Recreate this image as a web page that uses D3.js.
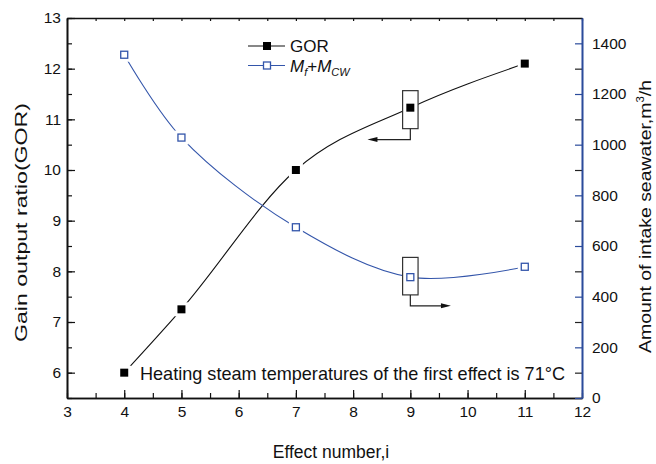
<!DOCTYPE html>
<html><head><meta charset="utf-8">
<script src="https://cdn.jsdelivr.net/npm/d3@7"></script>
<style>
html,body{margin:0;padding:0;background:#fff;}
svg{display:block;font-family:"Liberation Sans",Arial,sans-serif;}
</style></head>
<body>
<svg id="c" width="656" height="464"></svg>
<script>
// ---- data ----
const effects = [4, 5, 7, 9, 11];
const gorValues = [6.0, 7.25, 10.0, 11.23, 12.1];
const intakeValues = [1355, 1028, 674, 477, 518];
const xTicks = [3, 4, 5, 6, 7, 8, 9, 10, 11, 12];
const leftTicks = [6, 7, 8, 9, 10, 11, 12, 13];
const rightTicks = [0, 200, 400, 600, 800, 1000, 1200, 1400];
// annotation boxes: [effect, top, bottom, arrowY, arrowTipX] (in axis units)
const gorBox = [9, 11.566, 10.816, 10.6, 8.25];
const intakeBox = [9, 555, 407, 364, 9.71];

const BLUE = "#3355aa";
const AXBLUE = "#2b4b9b";
const svg = d3.select("#c");
const x = d3.scaleLinear([3, 12], [67, 582]);
const yL = d3.scaleLinear([5.5, 13], [398, 18]);
const yR = d3.scaleLinear([0, 1500], [398, 18]);
const halves = d3.range(3, 12.01, 0.5);

// ---- curves ----
const gorPts = effects.map((e, i) => [e, gorValues[i]]);
const inPts = effects.map((e, i) => [e, intakeValues[i]]);
const lineL = d3.line().x(d => x(d[0])).y(d => yL(d[1])).curve(d3.curveMonotoneX);
const lineR = d3.line().x(d => x(d[0])).y(d => yR(d[1])).curve(d3.curveCatmullRom.alpha(0.5));
svg.append("path").attr("d", lineL(gorPts)).attr("fill", "none").attr("stroke", "#111").attr("stroke-width", 1.1);
svg.append("path").attr("d", lineR(inPts)).attr("fill", "none").attr("stroke", BLUE).attr("stroke-width", 1.1);

// halos around markers (gaps in lines)
svg.selectAll("rect.hg").data(gorPts).join("rect")
  .attr("x", d => x(d[0]) - 7).attr("y", d => yL(d[1]) - 7).attr("width", 14).attr("height", 14).attr("fill", "#fff");
svg.selectAll("rect.hb").data(inPts).join("rect")
  .attr("x", d => x(d[0]) - 7).attr("y", d => yR(d[1]) - 7).attr("width", 14).attr("height", 14).attr("fill", "#fff");

// annotation boxes
const bw = x(3.135) - x(3);
function box(b, ys, dir) {
  const cx = x(b[0]);
  svg.append("rect").attr("x", cx - bw).attr("y", ys(b[1])).attr("width", 2 * bw).attr("height", ys(b[2]) - ys(b[1]))
    .attr("fill", "#fff").attr("stroke", "#333").attr("stroke-width", 1.2);
  const ay = ys(b[3]), tx = x(b[4]);
  svg.append("path").attr("d", `M${cx},${ys(b[2])}V${ay}H${tx - dir * 9}`).attr("fill", "none").attr("stroke", "#222").attr("stroke-width", 1.2);
  svg.append("path").attr("d", `M${tx},${ay}L${tx - dir * 10},${ay - 2.5}L${tx - dir * 10},${ay + 2.5}Z`).attr("fill", "#111");
}
box(gorBox, yL, -1);
box(intakeBox, yR, 1);

// markers
svg.selectAll("rect.mg").data(gorPts).join("rect")
  .attr("x", d => x(d[0]) - 4).attr("y", d => yL(d[1]) - 4).attr("width", 8).attr("height", 8).attr("fill", "#000");
svg.selectAll("rect.mb").data(inPts).join("rect")
  .attr("x", d => x(d[0]) - 3.5).attr("y", d => yR(d[1]) - 3.5).attr("width", 7).attr("height", 7)
  .attr("fill", "#fff").attr("stroke", BLUE).attr("stroke-width", 1.3);

// ---- axes ----
function styleAxis(g, color, width) {
  g.select(".domain").attr("stroke", color).attr("stroke-width", width);
  g.selectAll(".tick line").attr("stroke", color).attr("stroke-width", 1.2);
  g.selectAll("text").attr("fill", "#111").attr("font-size", 15.5).attr("font-family", "Liberation Sans, Arial, sans-serif");
}
// bottom
let g = svg.append("g").attr("transform", "translate(0,398)")
  .call(d3.axisBottom(x).tickValues(halves).tickSizeInner(-5).tickSizeOuter(0).tickFormat(""));
styleAxis(g, "#111", 1.6);
g = svg.append("g").attr("transform", "translate(0,398)")
  .call(d3.axisBottom(x).tickValues(xTicks).tickSizeInner(-8).tickSizeOuter(0).tickPadding(8).tickFormat(d3.format("d")));
styleAxis(g, "#111", 1.6);
// top
g = svg.append("g").attr("transform", "translate(0,18)")
  .call(d3.axisTop(x).tickValues(halves).tickSizeInner(-3).tickSizeOuter(0).tickFormat(""));
styleAxis(g, "#111", 1.6);
// left
g = svg.append("g").attr("transform", "translate(67,0)")
  .call(d3.axisLeft(yL).tickValues(d3.range(5.5, 13.01, 0.5)).tickSizeInner(-5).tickSizeOuter(0).tickFormat(""));
styleAxis(g, "#111", 1.6);
g = svg.append("g").attr("transform", "translate(67,0)")
  .call(d3.axisLeft(yL).tickValues(leftTicks).tickSizeInner(-8).tickSizeOuter(0).tickPadding(6).tickFormat(d3.format("d")));
styleAxis(g, "#111", 1.6);
// right
g = svg.append("g").attr("transform", "translate(582,0)")
  .call(d3.axisRight(yR).tickValues(d3.range(100, 1500, 200)).tickSizeInner(-7).tickSizeOuter(0).tickFormat(""));
styleAxis(g, AXBLUE, 1.6);
g.selectAll(".tick line").attr("stroke", "#222");
g = svg.append("g").attr("transform", "translate(582,0)")
  .call(d3.axisRight(yR).tickValues(rightTicks).tickSizeInner(-7).tickSizeOuter(0).tickPadding(10).tickFormat(d3.format("d")));
styleAxis(g, AXBLUE, 1.6);

// ---- labels ----
svg.append("text").attr("x", 331).attr("y", 458).attr("text-anchor", "middle").attr("font-size", 17.5).attr("fill", "#111")
  .text("Effect number,i");
svg.append("text").attr("transform", "translate(27,222.5) rotate(-90)").attr("text-anchor", "middle")
  .attr("font-size", 17).attr("fill", "#111").attr("textLength", 239).attr("lengthAdjust", "spacingAndGlyphs")
  .text("Gain output ratio(GOR)");
const rl = svg.append("text").attr("transform", "translate(651,216.5) rotate(-90)").attr("text-anchor", "middle")
  .attr("font-size", 17).attr("fill", "#111").attr("textLength", 273).attr("lengthAdjust", "spacingAndGlyphs");
rl.append("tspan").text("Amount of intake seawater,m");
rl.append("tspan").attr("dy", -7).attr("font-size", 10).text("3");
rl.append("tspan").attr("dy", 7).text("/h");

svg.append("text").attr("x", 140).attr("y", 380).attr("font-size", 19).attr("fill", "#111")
  .attr("textLength", 425).attr("lengthAdjust", "spacingAndGlyphs")
  .text("Heating steam temperatures of the first effect is 71°C");

// ---- legend ----
const lg = svg.append("g");
lg.append("path").attr("d", "M248,46H263M271,46H285").attr("stroke", "#111").attr("stroke-width", 1.1);
lg.append("rect").attr("x", 263).attr("y", 42).attr("width", 8).attr("height", 8).attr("fill", "#000");
lg.append("text").attr("x", 290).attr("y", 52).attr("font-size", 17).attr("fill", "#111").text("GOR");
lg.append("path").attr("d", "M248,65.5H263M271,65.5H285").attr("stroke", BLUE).attr("stroke-width", 1.1);
lg.append("rect").attr("x", 263.5).attr("y", 62).attr("width", 7).attr("height", 7).attr("fill", "#fff").attr("stroke", BLUE).attr("stroke-width", 1.3);
const lt = lg.append("text").attr("x", 290).attr("y", 72).attr("font-size", 17).attr("fill", "#111");
lt.append("tspan").attr("font-style", "italic").text("M");
lt.append("tspan").attr("font-style", "italic").attr("font-size", 11).attr("dy", 4).text("f");
lt.append("tspan").attr("dy", -4).text("+");
lt.append("tspan").attr("font-style", "italic").text("M");
lt.append("tspan").attr("font-style", "italic").attr("font-size", 11).attr("dy", 4).text("CW");
</script>
</body></html>
